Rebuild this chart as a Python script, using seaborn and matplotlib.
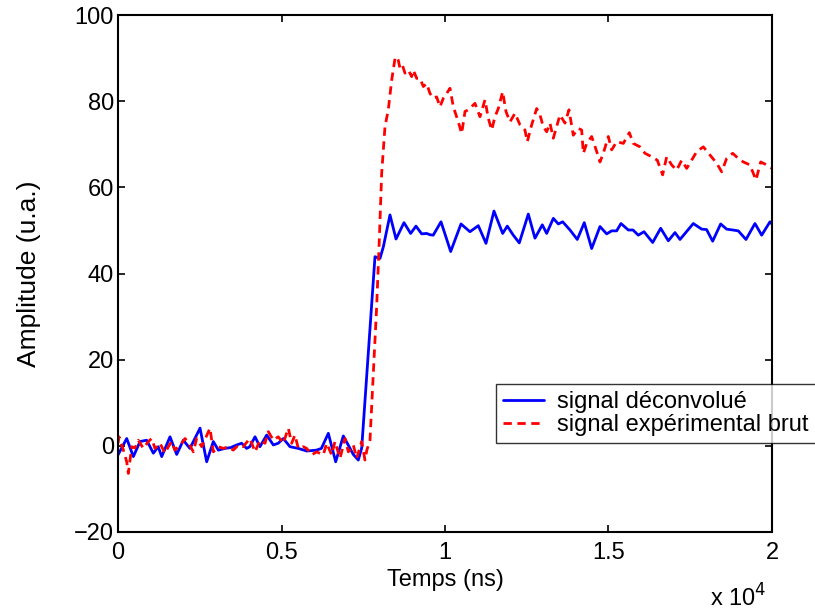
import numpy as np
import pandas as pd
import matplotlib
matplotlib.use("Agg")
import matplotlib.pyplot as plt
import seaborn as sns

# signal deconvolue (temps en ns, amplitude en u.a.)
blue_t = [0, 266, 469, 673, 877, 1080, 1230, 1336, 1590, 1795,
          1997, 2200, 2508, 2712, 2915, 3068, 3270, 3450, 3629, 3780,
          3935, 4030, 4190, 4340, 4547, 4750, 4900, 5055, 5260, 5515,
          5770, 6070, 6220, 6432, 6657, 6891, 7196, 7349, 7453, 7859,
          8012, 8115, 8318, 8502, 8746, 8950, 9113, 9287, 9440, 9541,
          9640, 9878, 10174, 10489, 10764, 11019, 11254, 11498, 11764, 11905,
          12089, 12272, 12548, 12752, 12976, 13110, 13313, 13466, 13600, 13823,
          14046, 14260, 14486, 14740, 14944, 15098, 15250, 15382, 15606, 15750,
          15912, 16086, 16352, 16596, 16830, 17034, 17187, 17594, 17850, 18000,
          18186, 18431, 18614, 18800, 18970, 19205, 19480, 19685, 19939, 20000]
blue_y = [-2.1, 1.7, -2.5, 1.0, 1.3, -1.7, -0.2, -2.5, 2.1, -2.0,
          1.3, -0.6, 4.1, -3.7, 1.0, -1.0, -0.6, -0.4, 0.2, 0.6,
          -0.6, -0.2, 2.1, -0.2, 2.5, 0.2, 0.6, 1.7, -0.2, -0.6,
          -1.2, -1.0, -0.6, 2.9, -3.7, 2.3, -2.0, -3.3, -0.5, 43.9,
          43.5, 46.2, 53.6, 48.0, 51.8, 49.3, 51.0, 49.2, 49.3, 49.0,
          48.9, 52.0, 45.1, 51.5, 49.7, 51.1, 47.0, 54.5, 49.3, 51.0,
          48.9, 47.1, 53.8, 48.2, 51.3, 49.3, 52.8, 51.5, 52.0, 50.1,
          47.9, 51.8, 45.8, 50.9, 49.2, 49.9, 49.9, 51.6, 50.1, 50.1,
          48.9, 49.7, 47.2, 50.5, 47.6, 49.5, 47.9, 51.6, 50.3, 50.2,
          47.5, 51.5, 50.3, 50.1, 49.9, 47.9, 51.6, 48.9, 52.0, 51.5]

# signal experimental brut
red_t = [0, 30, 150, 266, 315, 419, 520, 621, 775, 927,
         1030, 1130, 1284, 1437, 1540, 1640, 1740, 1947, 2049, 2150,
         2304, 2405, 2560, 2813, 2915, 3068, 3220, 3372, 3525, 3680,
         3830, 3985, 4036, 4190, 4340, 4495, 4597, 4750, 4900, 5055,
         5208, 5310, 5410, 5515, 5665, 5770, 5923, 6075, 6279, 6380,
         6535, 6635, 6789, 6942, 7045, 7196, 7300, 7453, 7553, 7610,
         7706, 7808, 7910, 7991, 8064, 8165, 8266, 8370, 8471, 8522,
         8572, 8624, 8700, 8777, 8880, 8981, 9032, 9134, 9236, 9337,
         9440, 9541, 9643, 9745, 9847, 9950, 10052, 10153, 10255, 10407,
         10510, 10612, 10714, 10917, 11070, 11223, 11325, 11428, 11529, 11631,
         11764, 11865, 11988, 12141, 12294, 12446, 12517, 12651, 12804, 12905,
         13006, 13110, 13211, 13312, 13517, 13670, 13792, 13924, 14076, 14180,
         14231, 14334, 14486, 14640, 14740, 14842, 14995, 15098, 15250, 15454,
         15637, 15759, 15963, 16117, 16321, 16493, 16656, 16780, 16933, 17086,
         17239, 17392, 17543, 17700, 17900, 18105, 18309, 18462, 18614, 18798,
         18970, 19123, 19327, 19511, 19655, 19838, 20000]
red_y = [0.6, 2.1, -0.6, -3.7, -6.4, -0.2, -0.5, 1.3, -0.6, 1.0,
         1.7, -0.6, 0.6, -1.7, -0.2, 1.0, -1.0, 0.6, 1.7, 0.8,
         -1.4, 1.7, -0.2, 4.1, -1.4, -0.2, -0.6, -0.2, -1.0, 0.2,
         -0.2, 1.3, 1.7, -1.4, 1.3, 0.6, 3.3, 1.3, 2.1, 0.6,
         4.1, 0.6, 2.5, -0.6, -0.2, -0.6, -2.1, -1.4, -2.1, 0.6,
         -2.1, 1.0, -2.9, 1.7, -1.4, 0.2, -2.9, 1.0, -3.3, -1.0,
         1.3, 16.8, 32.3, 47.8, 63.3, 74.1, 78.0, 84.9, 89.9, 90.3,
         89.5, 87.6, 88.3, 86.5, 87.2, 85.7, 87.2, 85.3, 85.3, 83.4,
         84.1, 81.8, 80.7, 81.0, 78.7, 80.7, 81.8, 83.0, 78.7, 75.2,
         72.5, 77.6, 78.0, 79.5, 76.4, 80.3, 76.0, 73.3, 76.4, 78.3,
         82.2, 77.6, 75.2, 77.2, 74.5, 73.3, 70.6, 74.5, 78.3, 76.8,
         74.1, 72.9, 74.9, 71.4, 76.8, 74.9, 78.0, 72.1, 73.7, 73.3,
         67.9, 70.2, 71.8, 68.3, 65.9, 67.9, 71.8, 68.7, 70.6, 70.2,
         72.7, 70.2, 69.4, 67.9, 67.1, 66.3, 62.9, 67.1, 65.2, 64.0,
         66.3, 64.4, 66.3, 68.3, 69.4, 67.5, 65.6, 63.6, 66.7, 67.9,
         66.7, 65.9, 65.2, 61.7, 65.9, 65.2, 64.4]

x_ticks = [0, 5000, 10000, 15000, 20000]
x_ticklabels = ["0", "0.5", "1", "1.5", "2"]
y_ticks = [-20, 0, 20, 40, 60, 80, 100]

sns.set_style("white")
plt.rcParams["font.family"] = ["Liberation Sans", "DejaVu Sans"]
plt.rcParams["axes.linewidth"] = 1.5
plt.rcParams["xtick.direction"] = "in"
plt.rcParams["ytick.direction"] = "in"
plt.rcParams["text.color"] = "black"
plt.rcParams["axes.labelcolor"] = "black"
plt.rcParams["xtick.color"] = "black"
plt.rcParams["ytick.color"] = "black"

narrow = ["Liberation Sans Narrow", "Liberation Sans", "DejaVu Sans"]

fig = plt.figure(figsize=(8.15, 6.08), dpi=100)
ax = fig.add_axes([0.1448, 0.125, 0.8024, 0.8503])

blue = pd.DataFrame({"t": blue_t, "y": blue_y})
red = pd.DataFrame({"t": red_t, "y": red_y})

sns.lineplot(data=blue, x="t", y="y", ax=ax, color="#0000ff", lw=2.0,
             estimator=None, sort=False, label="signal déconvolué")
sns.lineplot(data=red, x="t", y="y", ax=ax, color="#ff0000", lw=2.0,
             estimator=None, sort=False, label="signal expérimental brut")
ax.lines[0].set_solid_joinstyle("round")
ax.lines[1].set_linestyle((0, (3, 2)))

ax.set_xlim(0, 20000)
ax.set_ylim(-20, 100)
ax.set_xticks(x_ticks)
ax.set_xticklabels(x_ticklabels)
ax.set_yticks(y_ticks)
ax.tick_params(axis="both", which="major", labelsize=17, length=5, width=1.2,
               colors="black", top=True, right=True, bottom=True, left=True)
ax.tick_params(axis="x", pad=7)
ax.tick_params(axis="y", pad=3)
for lab in ax.get_xticklabels() + ax.get_yticklabels():
    lab.set_family(narrow)
for s in ax.spines.values():
    s.set_color("black")
    s.set_visible(True)

ax.set_xlabel("Temps (ns)", fontsize=17)
ax.set_ylabel("Amplitude (u.a.)", fontsize=19)
ax.xaxis.set_label_coords(0.5, -0.072)
ax.yaxis.set_label_coords(-0.118, 0.5)

leg = ax.legend(loc="upper left", bbox_to_anchor=(0.6086, 0.3684),
                bbox_transform=fig.transFigure, fontsize=17, frameon=True,
                fancybox=False, borderpad=0.3, handlelength=1.75,
                handletextpad=0.55, labelspacing=0.05, borderaxespad=0)
leg.get_frame().set_edgecolor("black")
leg.get_frame().set_linewidth(1.0)
leg.get_lines()[1].set_linestyle((0, (3, 2)))

fig.text(0.94, 0.003, r"x 10$^{4}$", fontsize=17, ha="right", va="baseline")

fig.savefig("out.png", dpi=100)
